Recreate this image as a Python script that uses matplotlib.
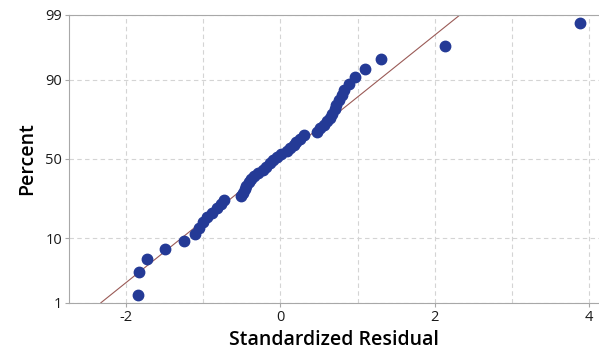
import matplotlib.pyplot as plt
import numpy as np
from statistics import NormalDist

# Standardized residuals, sorted (n = 50)
residuals = [-1.85, -1.83, -1.73, -1.50, -1.25, -1.11, -1.05, -1.00, -0.95, -0.88,
             -0.82, -0.77, -0.73, -0.51, -0.485, -0.465, -0.44, -0.41, -0.385, -0.34,
             -0.285, -0.23, -0.18, -0.135, -0.09, -0.04, 0.01, 0.08, 0.13, 0.17,
             0.20, 0.26, 0.30, 0.47, 0.51, 0.56, 0.61, 0.64, 0.67, 0.705,
             0.725, 0.76, 0.795, 0.83, 0.89, 0.97, 1.10, 1.31, 2.13, 3.88]
pct_ticks = [1, 10, 50, 90, 99]
fit_mean, fit_sd = 0.0, 1.0

nd = NormalDist()
n = len(residuals)
# median ranks as used for normal probability plots
ranks = np.arange(1, n + 1)
pct = (ranks - 0.3) / (n + 0.4)
z = np.array([nd.inv_cdf(p) for p in pct])

plt.rcParams['font.family'] = ['Open Sans', 'DejaVu Sans']
plt.rcParams['axes.unicode_minus'] = False

fig = plt.figure(figsize=(5.99, 3.57), dpi=100)
ax = fig.add_axes([0.1152, 0.152, 0.8848, 0.806])

zlo, zhi = nd.inv_cdf(0.01), nd.inv_cdf(0.99)

# fitted normal line
xl = np.array([fit_mean + zlo * fit_sd, fit_mean + zhi * fit_sd])
ax.plot(xl, (xl - fit_mean) / fit_sd, color='#9a5a56', lw=0.8, zorder=2)

ax.plot(residuals, z, 'o', color='#243a96', markersize=7.5, zorder=3)

ax.set_xlim(-2.74, 4.13)
ax.set_ylim(zlo, zhi)
ax.set_xticks([-2, 0, 2, 4])
ax.set_xticks([-1, 1, 3], minor=True)
ax.set_yticks([nd.inv_cdf(p / 100) for p in pct_ticks])
ax.set_yticklabels([str(p) for p in pct_ticks])

ax.grid(True, which='both', axis='x', color='#d4d4d4', ls=(0, (4, 3)), lw=0.8)
ax.grid(True, axis='y', color='#d4d4d4', ls=(0, (4, 3)), lw=0.8)
ax.set_axisbelow(True)

for s in ['left', 'bottom', 'top']:
    ax.spines[s].set_color('#a8a8a8')
ax.spines['right'].set_visible(False)
ax.tick_params(axis='both', which='major', length=3, color='#a8a8a8',
               labelsize=10.5, labelcolor='#1a1a1a', pad=2)
ax.tick_params(axis='x', which='minor', length=0)

ax.set_xlabel('Standardized Residual', fontsize=14, fontweight='semibold', labelpad=4)
ax.set_ylabel('Percent', fontsize=14, fontweight='semibold', labelpad=6)

fig.savefig('out.png', dpi=100)
